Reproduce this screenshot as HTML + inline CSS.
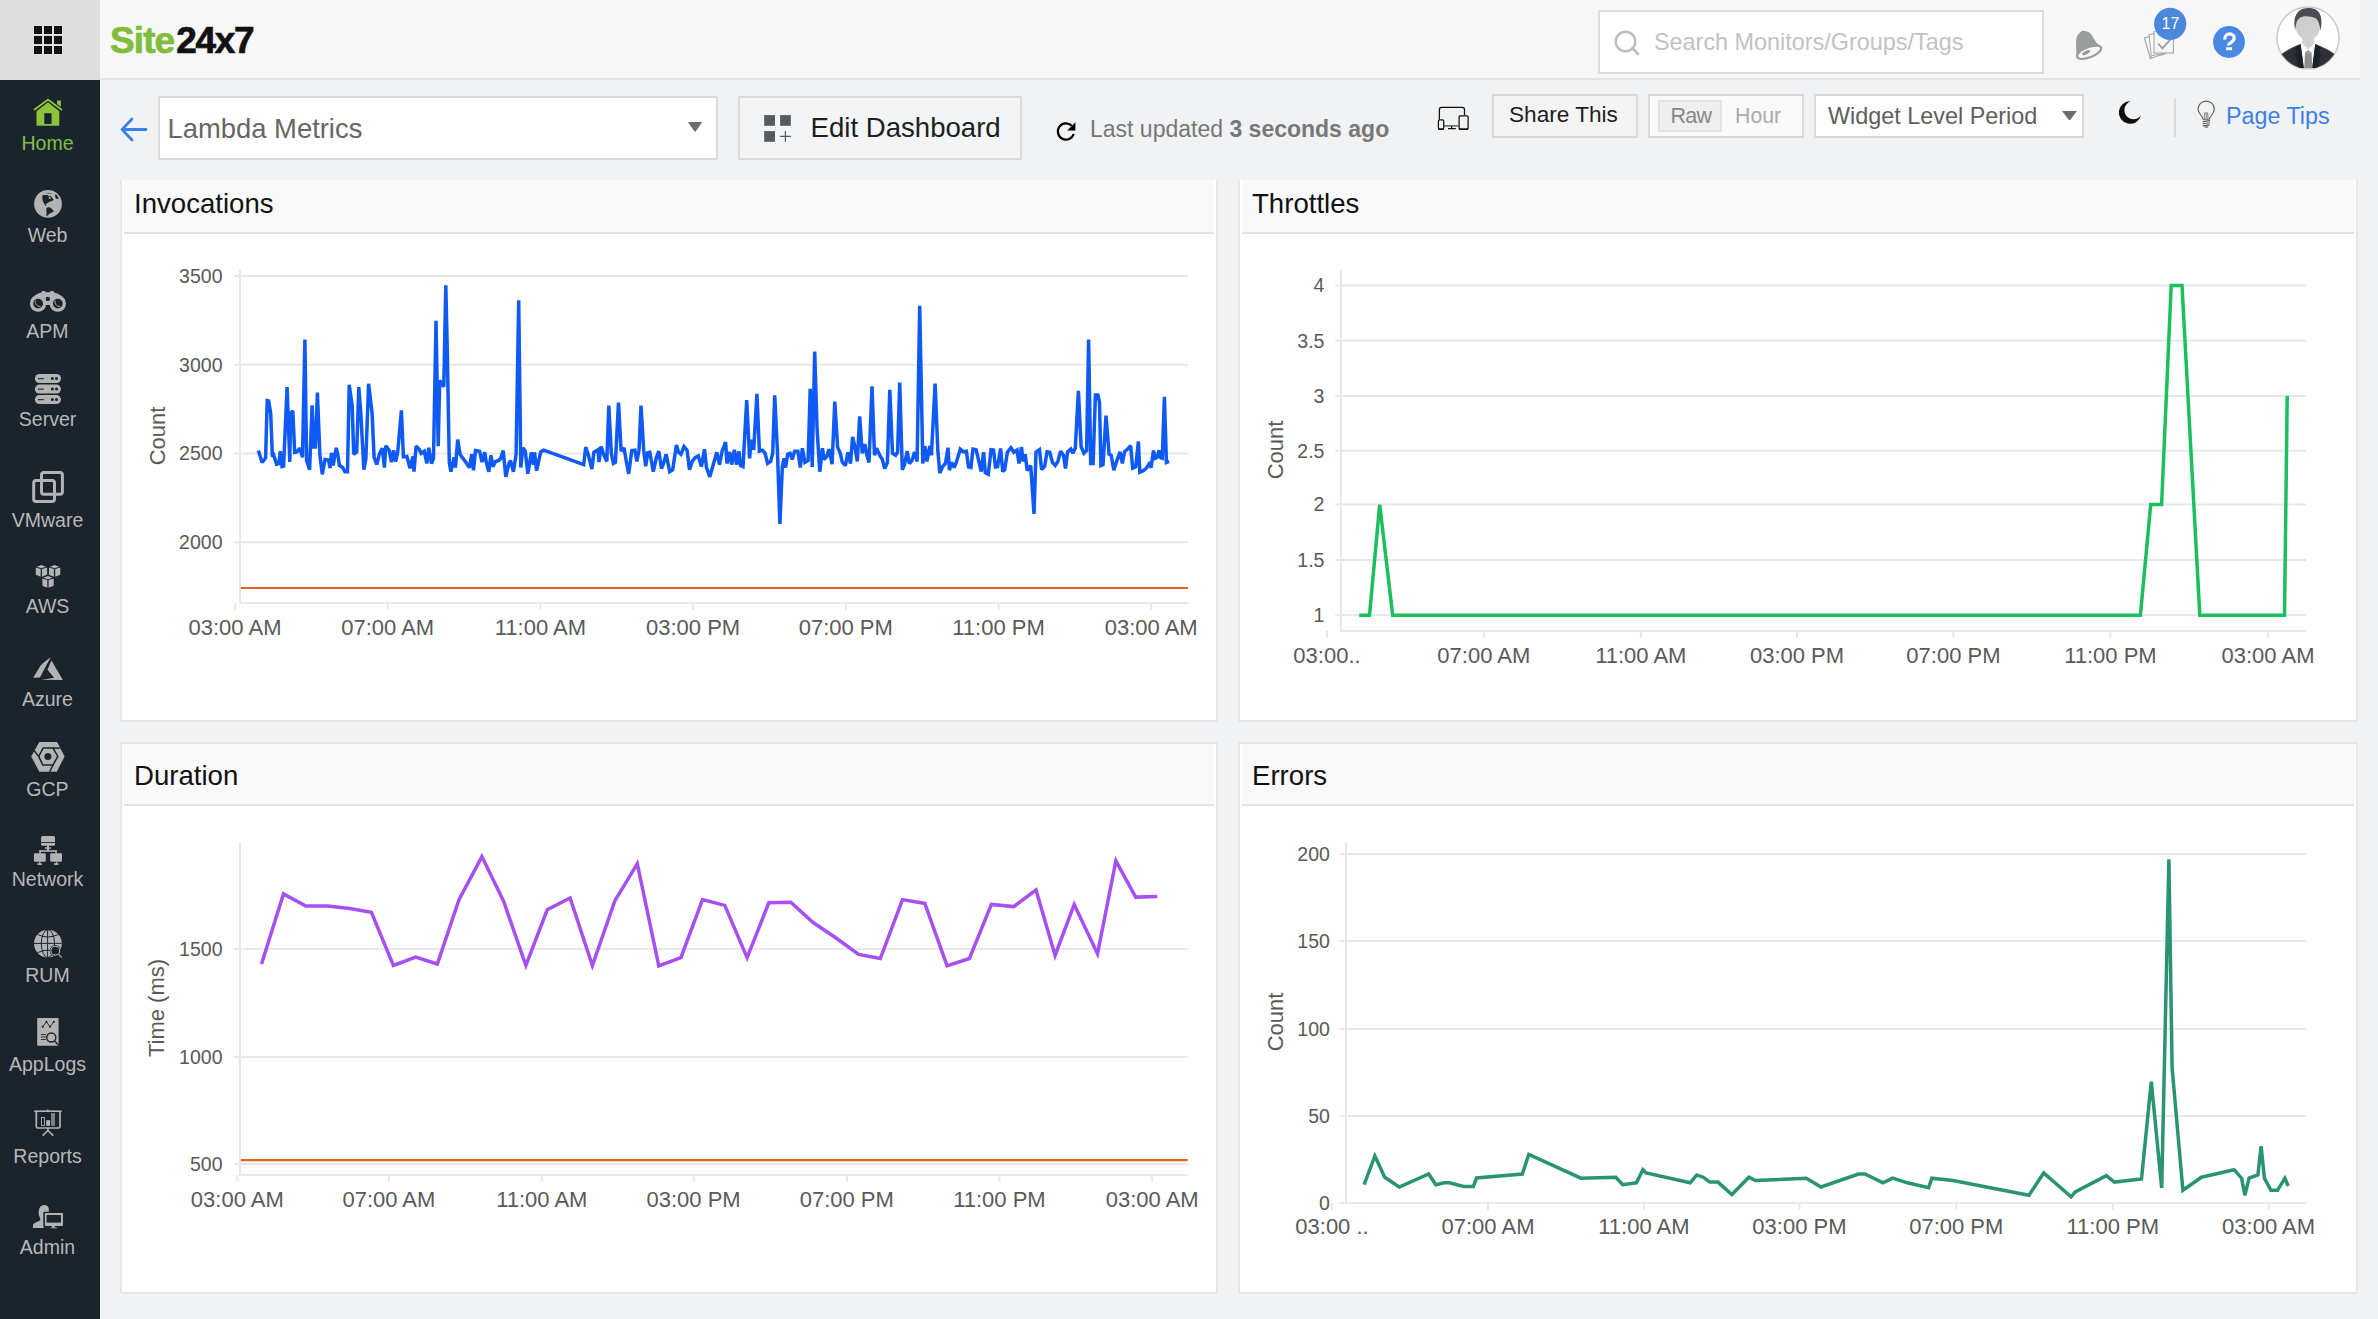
<!DOCTYPE html>
<html><head><meta charset="utf-8"><title>Lambda Metrics - Site24x7</title>
<style>
*{box-sizing:border-box;margin:0;padding:0}
html,body{width:2378px;height:1319px;overflow:hidden;background:#f1f2f4;font-family:"Liberation Sans",Arial,sans-serif}
.abs{position:absolute}
#topbar{position:absolute;left:0;top:0;width:2360px;height:80px;background:#f7f7f7;border-bottom:2px solid #e4e4e4}
#appgrid{position:absolute;left:0;top:0;width:100px;height:80px;background:#dddddd}
#sidebar{position:absolute;left:0;top:80px;width:100px;height:1239px;background:#1b242d}
.logo{position:absolute;left:110px;top:16px;font-weight:bold;font-size:37px;letter-spacing:-1.1px;line-height:50px;white-space:nowrap}
.logo .g{color:#7fbd3b;letter-spacing:-0.9px;-webkit-text-stroke:0.7px #7fbd3b}.logo .k{color:#111;margin-left:2px;letter-spacing:-1.35px;-webkit-text-stroke:0.7px #111}
.nav{position:absolute;left:0;width:95px;text-align:center;font-size:19.5px;color:#b8b8b8;line-height:20px}
.nav.on{color:#7fc242}
.navi{position:absolute}
.card{position:absolute;background:#fff;border:2px solid #e7e7e7;border-top:none}
.card .hd{position:absolute;left:2px;right:2px;top:0;height:54px;background:#f9f9f9;border-bottom:2px solid #e1e1e1}
.card .hd span{position:absolute;left:10px;top:8.5px;font-size:27.6px;color:#111;line-height:30px}
.box{position:absolute;border:2px solid #d9d9d9}
svg text{font-family:"Liberation Sans",Arial,sans-serif}
.yl{font-size:19.5px;fill:#595959}
.xl{font-size:22px;fill:#595959}
.at{font-size:22px;fill:#595959}
</style></head>
<body>
<div id="topbar"></div>
<div id="appgrid">
 <svg class="abs" style="left:34px;top:26px" width="28" height="28" viewBox="0 0 28 28" fill="#111">
  <rect x="0" y="0" width="8" height="8"/><rect x="10" y="0" width="8" height="8"/><rect x="20" y="0" width="8" height="8"/>
  <rect x="0" y="10" width="8" height="8"/><rect x="10" y="10" width="8" height="8"/><rect x="20" y="10" width="8" height="8"/>
  <rect x="0" y="20" width="8" height="8"/><rect x="10" y="20" width="8" height="8"/><rect x="20" y="20" width="8" height="8"/>
 </svg>
</div>
<div class="logo"><span class="g">Site</span><span class="k">24x7</span></div>

<!-- search -->
<div class="box" style="left:1598px;top:10px;width:446px;height:64px;background:#fff;border-color:#dcdcdc"></div>
<svg class="abs" style="left:1613.5px;top:29.5px" width="28" height="28" viewBox="0 0 28 28"><circle cx="11.5" cy="11.5" r="9.8" fill="none" stroke="#bebebe" stroke-width="2.4"/><line x1="18.6" y1="18.6" x2="24" y2="24" stroke="#bebebe" stroke-width="2.8" stroke-linecap="round"/></svg>
<div class="abs" style="left:1654px;top:28.2px;font-size:23.4px;color:#c2c2c2;line-height:28px;white-space:nowrap">Search Monitors/Groups/Tags</div>
<!-- bell -->
<svg class="abs" style="left:2066px;top:6px" width="40" height="60" viewBox="0 0 40 60"><path d="M10.6 49 C 10.2 42, 9.6 35, 10.8 31 C 11.6 28.6, 13.6 27, 15 25.8 C 15.4 24.8, 16.2 24.4, 17 24.8 C 19.5 25.2, 22.3 25.4, 24.2 27.2 C 26.4 29.4, 27.6 32.5, 29.2 35 C 30.8 37.4, 33 38.8, 35 40.6 Z" fill="#9b9d9d"/><ellipse cx="23" cy="46.3" rx="12.9" ry="5.1" transform="rotate(-21 23 46.3)" fill="#f7f7f7" stroke="#9b9d9d" stroke-width="2.1"/><ellipse cx="20.2" cy="46.6" rx="4.4" ry="1.7" transform="rotate(-25 20.2 46.6)" fill="#9b9d9d"/></svg>
<!-- tasks -->
<svg class="abs" style="left:2066px;top:6px" width="130" height="64" viewBox="0 0 130 64"><g fill="#f7f7f7" stroke="#aaaaaa" stroke-width="1.1"><path d="M78.5 32 L 83 31 L 84.5 52.5 Z"/><path d="M78.5 32 L 83.2 30.8 L 88 50.5 L 84.5 52.5 Z"/><path d="M83 28.5 L 87.5 27.8 L 98 48.5 L 85.3 50 Z"/><path d="M84.5 52.5 L 85.3 49.8 L 101 47 Z"/><rect x="88" y="25.7" width="19.4" height="21.3"/></g><path d="M92.1 37.5 L 96.5 42.4 L 105.5 32.3" fill="none" stroke="#999" stroke-width="1.7"/><circle cx="104.2" cy="17.8" r="16.1" fill="#4a88e0"/><text x="104.4" y="23.2" text-anchor="middle" font-size="16" fill="#fff" font-family="Liberation Sans, Arial, sans-serif">17</text></svg>
<!-- help -->
<svg class="abs" style="left:2213px;top:26px" width="32" height="32" viewBox="0 0 32 32"><circle cx="16" cy="16" r="15.9" fill="#4a89e3"/><path d="M11.7 13.4 C 11.7 9.4, 14.2 7.9, 16.6 7.9 C 19.4 7.9, 21.2 9.7, 21.2 12.1 C 21.2 14.4, 19.6 15.4, 18.1 16.4 C 16.8 17.3, 15.4 17.9, 15.4 19.6" fill="none" stroke="#fff" stroke-width="3.2"/><rect x="13.1" y="21.3" width="6" height="2.9" fill="#fff"/></svg>
<!-- avatar -->
<svg class="abs" style="left:2270px;top:2px" width="76" height="72" viewBox="0 0 76 72">
 <defs><clipPath id="avc"><circle cx="38" cy="36" r="30.8"/></clipPath></defs>
 <circle cx="38" cy="36" r="31" fill="#fff" stroke="#c9c9c9" stroke-width="1.5"/>
 <g clip-path="url(#avc)">
  <path d="M30.6 42 L 45.3 42 L 44 60 L 32 60 Z" fill="#ffffff"/>
  <path d="M32.2 36 L 44.2 36 L 44.2 41.5 L 38.2 47.5 L 32.2 41.5 Z" fill="#d2d2d2"/>
  <path d="M12.6 51.3 C 18 47.5, 24 44.5, 30.6 42 L 33.8 66 L 0 70 Z" fill="#2d3136"/>
  <path d="M63.4 51.3 C 58 47.5, 52 44.5, 45.3 42 L 42.2 66 L 76 70 Z" fill="#2d3136"/>
  <path d="M30.6 42 L 25 46 L 27 50 L 24.5 53 L 27 57 L 28 66 L 33.8 66 Z" fill="#1b222b"/>
  <path d="M45.3 42 L 51 46 L 49 50 L 51.5 53 L 49 57 L 48 66 L 42.2 66 Z" fill="#1b222b"/>
  <path d="M38.2 48 L 41.5 50.5 L 42.3 66 L 34.2 66 L 35 50.5 Z" fill="#8f8f8f"/>
  <path d="M38.2 48 L 41.5 50.5 L 38.2 52 L 35 50.5 Z" fill="#a5a5a5"/>
  <path d="M25.8 24 C 25.6 17, 30 13.6, 38 13.6 C 45.8 13.6, 50.2 17, 50.2 24 C 50.2 31.5, 45.5 37.6, 38 37.6 C 30.5 37.6, 25.8 31.5, 25.8 24 Z" fill="#cecece"/>
  <path d="M25.4 28.5 C 23.4 21, 24 12.5, 30 8.3 C 34 5.5, 42 5.3, 46.5 8 C 51.5 11.5, 52.5 19, 50.6 28.5 C 49.8 23, 48.3 18.3, 46 16.6 C 43 15, 40 14.4, 36 14.3 C 31 14.3, 28 16.5, 26.5 20.5 C 25.8 23, 25.5 25.5, 25.4 28.5 Z" fill="#4a4d51"/>
 </g>
</svg>

<div id="sidebar"></div>
<div class="nav on" style="top:133.4px">Home</div>
<svg class="navi" style="left:25px;top:92px" width="50" height="38" viewBox="0 0 50 38"><path d="M9 18 L23 7.6 L36.9 18" fill="none" stroke="#8bc43c" stroke-width="1.9"/><path d="M32 8.4 H35.9 V14.8 L32 11.9 Z" fill="#8bc43c"/><path d="M11.5 19.2 L23 10.2 L34.3 19.2 V33.8 H11.5 Z" fill="#8bc43c"/><rect x="19.3" y="21.3" width="7.3" height="10.7" rx="0.6" fill="#1b242d"/></svg>
<div class="nav" style="top:225.4px">Web</div>
<svg class="navi" style="left:25px;top:184px" width="45" height="38" viewBox="0 0 45 38"><circle cx="23" cy="19.9" r="13.9" fill="#b3b3b3"/><path d="M17.3 11.3 C 19 10.9, 21.5 10.8, 23.2 11.3 L 23.6 12.6 L 25.8 12 L 27 13.4 L 28.6 15.8 L 27.5 16.8 C 26 17.2, 24.5 17.6, 23.2 18.4 C 22 19, 21.2 19.8, 20.8 20.6 L 21.6 22 L 20.3 21.5 C 19.6 20.2, 18.6 18.6, 17.8 17.2 C 17.4 15.5, 17.2 13.5, 17.3 11.3 Z" fill="#1b242d"/><ellipse cx="24.8" cy="13.9" rx="1.1" ry="0.9" fill="#b3b3b3"/><path d="M21.5 24 C 22.5 22.8, 25 23, 26.3 24.6 C 27.2 25.6, 28.2 26.3, 28.9 27.3 C 27.5 28.5, 25.5 29.2, 24.3 30 C 23 31, 21.8 32, 21 32.4 C 21.5 30.5, 22 28.5, 21.3 26.5 Z" fill="#1b242d"/><path d="M29.8 10.6 L 31.8 11 L 33.8 14.6 L 31 14.9 L 30.3 13 Z" fill="#1b242d"/><path d="M20.5 9 C 22.5 8.5, 25 8.6, 27.5 9.6 L 25 10.2 L 22 9.8 Z" fill="#1b242d" opacity="0.45"/></svg>
<div class="nav" style="top:320.9px">APM</div>
<svg class="navi" style="left:25px;top:282px" width="45" height="36" viewBox="0 0 45 36"><g fill="#b3b3b3"><circle cx="13.1" cy="21.6" r="8.2"/><circle cx="32.8" cy="21.6" r="8.2"/><path d="M5.6 18 C 8.5 13.5, 12.5 11.6, 16 10.8 C 16.8 8.8, 19.8 8.3, 21 10.3 L 24.6 10.3 C 25.8 8.3, 28.8 8.8, 29.6 10.8 C 33.1 11.6, 37.1 13.5, 40.2 18 L 34 22 L 12 22 Z"/><rect x="19.5" y="13" width="7" height="10"/></g><circle cx="13.1" cy="21.6" r="4.9" fill="#1b242d"/><circle cx="32.8" cy="21.6" r="4.9" fill="#1b242d"/><circle cx="22.8" cy="16.9" r="2.2" fill="#1b242d"/><path d="M10.6 18.6 C 9.8 21.5, 11.5 24.5, 15.5 24.5" fill="none" stroke="#b3b3b3" stroke-width="1"/><path d="M30.3 18.6 C 29.5 21.5, 31.2 24.5, 35.2 24.5" fill="none" stroke="#b3b3b3" stroke-width="1"/></svg>
<div class="nav" style="top:409.4px">Server</div>
<svg class="navi" style="left:25px;top:368px" width="45" height="42" viewBox="0 0 45 42"><g fill="#b3b3b3"><rect x="9.9" y="6" width="26.1" height="9" rx="4.5"/><rect x="9.9" y="16.6" width="26.1" height="9" rx="4.5"/><rect x="9.9" y="27.1" width="26.1" height="9" rx="4.5"/></g><g fill="#1b242d"><circle cx="27.4" cy="10.6" r="1.5"/><circle cx="31.5" cy="10.6" r="1.5"/><circle cx="27.4" cy="21.1" r="1.5"/><circle cx="31.5" cy="21.1" r="1.5"/><circle cx="27.4" cy="31.6" r="1.5"/><circle cx="31.5" cy="31.6" r="1.5"/><rect x="12.9" y="10.1" width="5.9" height="1.1"/><rect x="12.9" y="20.6" width="5.9" height="1.1"/><rect x="12.9" y="31.1" width="5.9" height="1.1"/></g></svg>
<div class="nav" style="top:510.4px">VMware</div>
<svg class="navi" style="left:25px;top:465px" width="45" height="45" viewBox="0 0 45 45"><g fill="none" stroke="#b3b3b3" stroke-width="3"><rect x="16.5" y="7.6" width="20.9" height="21.6" rx="2.4"/><rect x="8.7" y="15.5" width="20.8" height="20.9" rx="2.4"/></g></svg>
<div class="nav" style="top:596.4px">AWS</div>
<svg class="navi" style="left:28px;top:558px" width="40" height="36" viewBox="0 0 40 36"><path d="M8.7 8.7 L13.4 7 L18.0 8.7 L13.4 10.3 Z" fill="#b3b3b3"/><path d="M7.8 9.4 L12.7 11.0 L12.7 18.8 L7.8 16.8 Z" fill="#b3b3b3"/><path d="M14.0 11.0 L19.1 9.4 L19.1 16.8 L14.0 18.8 Z" fill="#b3b3b3"/><path d="M21.9 8.7 L26.6 7 L31.2 8.7 L26.6 10.3 Z" fill="#b3b3b3"/><path d="M21.0 9.4 L25.9 11.0 L25.9 18.8 L21.0 16.8 Z" fill="#b3b3b3"/><path d="M27.2 11.0 L32.3 9.4 L32.3 16.8 L27.2 18.8 Z" fill="#b3b3b3"/><path d="M15.3 19.7 L20 18 L24.6 19.7 L20 21.3 Z" fill="#b3b3b3"/><path d="M14.4 20.4 L19.3 22.0 L19.3 29.8 L14.4 27.8 Z" fill="#b3b3b3"/><path d="M20.6 22.0 L25.7 20.4 L25.7 27.8 L20.6 29.8 Z" fill="#b3b3b3"/></svg>
<div class="nav" style="top:689.4px">Azure</div>
<svg class="navi" style="left:25px;top:650px" width="45" height="36" viewBox="0 0 45 36"><path d="M8.2 27.8 L 15.6 15.6 C 19 12, 22.5 9.3, 25.7 7.2 L 14.9 27.6 Z" fill="#b3b3b3"/><path d="M26.5 10.6 L 37.8 29.9 L 16.4 29.7 L 29.2 27.8 L 22.4 19.7 Z" fill="#b3b3b3"/></svg>
<div class="nav" style="top:778.9px">GCP</div>
<svg class="navi" style="left:25px;top:736px" width="45" height="42" viewBox="0 0 45 42"><path d="M6.2 20.4 L 14.3 6.1 H 32.2 L 39.6 20.4 L 31.8 35.7 H 14.3 Z" fill="#b3b3b3"/><path d="M13.7 20.4 L 18.2 12.1 H 28 L 32.8 20.4 L 28 29 H 17.8 Z" fill="#b3b3b3" stroke="#1b242d" stroke-width="1.5"/><g stroke="#1b242d" stroke-width="1.5"><path d="M28 12.1 H 35.5"/><path d="M13.7 20.4 L 9.2 14.8"/><path d="M28 29 L 24.6 36"/></g><circle cx="22.9" cy="20.4" r="3.5" fill="#1b242d"/></svg>
<div class="nav" style="top:869.4px">Network</div>
<svg class="navi" style="left:25px;top:830px" width="45" height="40" viewBox="0 0 45 40"><g fill="#b3b3b3"><rect x="16.1" y="6.1" width="13.9" height="9.7" rx="1.5"/><rect x="22" y="15.5" width="2" height="5.5"/><rect x="20" y="17.3" width="5.9" height="1.5"/><rect x="14.3" y="20.2" width="17.5" height="1.6"/><rect x="14.3" y="20.2" width="1.5" height="3.5"/><rect x="30.3" y="20.2" width="1.5" height="3.5"/><rect x="8.9" y="23.3" width="11.9" height="8.4" rx="1.3"/><rect x="25.2" y="23.3" width="11.8" height="8.4" rx="1.3"/><rect x="14.1" y="31.5" width="1.3" height="2"/><rect x="12.4" y="33.2" width="4.4" height="1.7"/><rect x="30.9" y="31.5" width="1.3" height="2"/><rect x="29" y="33.2" width="4.5" height="1.7"/></g><rect x="16.1" y="12" width="13.9" height="0.9" fill="#1b242d"/></svg>
<div class="nav" style="top:965.4px">RUM</div>
<svg class="navi" style="left:25px;top:924px" width="45" height="40" viewBox="0 0 45 40"><circle cx="22.9" cy="19.6" r="13.9" fill="#b3b3b3"/><g fill="none" stroke="#1b242d" stroke-width="1"><ellipse cx="22.9" cy="19.6" rx="6.6" ry="13.9"/><path d="M9 19.4 H 36.8 M 22.6 5.7 V 33.5 M 12.5 10.5 Q 22.9 15.5, 33.3 10.5 M 12.5 28.7 Q 22.9 23.7, 33.3 28.7"/></g><circle cx="30.3" cy="26.7" r="5.6" fill="#1b242d"/><circle cx="30.3" cy="26.7" r="4.4" fill="none" stroke="#b3b3b3" stroke-width="1.1"/><path d="M33.6 30.4 L 36.8 33.6" stroke="#b3b3b3" stroke-width="1.3"/></svg>
<div class="nav" style="top:1054.4px">AppLogs</div>
<svg class="navi" style="left:28px;top:1012px" width="40" height="40" viewBox="0 0 40 40"><rect x="9.2" y="5.9" width="21.4" height="27.9" rx="1" fill="#b3b3b3"/><path d="M14.7 14.7 L 18.4 9.9 L 22 14.7 L 25.8 9.9" fill="none" stroke="#1b242d" stroke-width="0.9"/><g fill="#1b242d"><circle cx="14.7" cy="14.7" r="1.05"/><circle cx="18.4" cy="9.9" r="1.05"/><circle cx="22" cy="14.7" r="1.05"/><circle cx="25.8" cy="9.9" r="1.05"/><rect x="12.9" y="22" width="5" height="0.9"/><rect x="12.9" y="24.5" width="5" height="0.9"/><rect x="12.9" y="27" width="5" height="0.9"/></g><circle cx="23.3" cy="25.5" r="4.5" fill="#b3b3b3" stroke="#1b242d" stroke-width="1.4"/><path d="M26.6 29 L 30.4 33" stroke="#1b242d" stroke-width="1.5"/></svg>
<div class="nav" style="top:1146.4px">Reports</div>
<svg class="navi" style="left:28px;top:1102px" width="40" height="40" viewBox="0 0 40 40"><g fill="none" stroke="#b3b3b3"><path d="M6.2 9.2 H 33.7" stroke-width="1.6"/><path d="M8.3 9.2 V 24.5 Q 8.3 26 10 26 H 30.3 Q 32 26 32 24.5 V 9.2" stroke-width="1.7"/><rect x="13.4" y="15.4" width="3" height="8" stroke-width="0.9"/><path d="M19.9 26.5 V 28.5 M 19.9 28.5 L 14.6 33.6 M 19.9 28.5 L 25.3 33.6" stroke-width="1.7"/></g><rect x="18.2" y="18.2" width="3.8" height="5.6" fill="#b3b3b3"/><rect x="23" y="11.1" width="4" height="12.7" fill="#b3b3b3" opacity="0.65"/><circle cx="19.9" cy="8.6" r="1" fill="#b3b3b3"/></svg>
<div class="nav" style="top:1237.4px">Admin</div>
<svg class="navi" style="left:26px;top:1198px" width="45" height="38" viewBox="0 0 45 38"><path d="M6.9 30 L 7.2 25.9 C 9.5 24.3, 12 23.5, 14.3 22.2 C 14.5 21, 13.8 19.5, 13.2 18 C 12.6 16.5, 12.3 14.5, 12.8 12.5 C 13.3 9.5, 15.4 7.2, 17.9 7.1 C 20.5 7, 22.5 8.3, 22.8 10.5 L 22.8 14 L 17.5 14 L 17.5 30 Z" fill="#b3b3b3"/><rect x="17.6" y="13.8" width="20.4" height="15.3" rx="1.2" fill="#1b242d"/><rect x="18.9" y="15" width="18.1" height="13" rx="0.8" fill="#b3b3b3"/><rect x="20.6" y="17" width="14.4" height="7.6" fill="#1b242d"/><rect x="25.9" y="28" width="2.9" height="1.6" fill="#b3b3b3"/><rect x="24.8" y="29.4" width="6.2" height="0.9" fill="#b3b3b3"/><rect x="6.9" y="29" width="11" height="1" fill="#b3b3b3"/></svg>

<!-- toolbar -->
<svg class="abs" style="left:120px;top:117px" width="28" height="26" viewBox="0 0 28 26"><path d="M12 2 L 2 12.5 L 12 23 M 2.5 12.5 L 26 12.5" fill="none" stroke="#3d80e4" stroke-width="2.8" stroke-linecap="round" stroke-linejoin="round"/></svg>
<div class="box" style="left:158px;top:96px;width:560px;height:64px;background:#fff"></div>
<div class="abs" style="left:167.5px;top:114px;font-size:27.4px;color:#666;line-height:30px;white-space:nowrap">Lambda Metrics</div>
<svg class="abs" style="left:688px;top:122px" width="15" height="10" viewBox="0 0 15 10"><path d="M0 0 H14.2 L8.1 8.9 Q7.1 10.1, 6.1 8.9 Z" fill="#6a6c6d"/></svg>
<div class="box" style="left:738px;top:96px;width:284px;height:64px;background:#f3f4f5"></div>
<svg class="abs" style="left:755px;top:105px" width="45" height="45" viewBox="0 0 45 45" fill="#58595b"><rect x="9.2" y="10.1" width="10.8" height="10.7"/><rect x="25.1" y="10.1" width="10.7" height="10.7"/><rect x="9.2" y="26.1" width="10.8" height="10.7"/><path d="M30.4 26.1 V 36.8 M 25.1 31.4 H 35.8" stroke="#58595b" stroke-width="1.2"/></svg>
<div class="abs" style="left:810.5px;top:112.5px;font-size:27.6px;color:#1e1e1e;line-height:30px;white-space:nowrap">Edit Dashboard</div>

<svg class="abs" style="left:1050px;top:115px" width="32" height="32" viewBox="0 0 32 32"><path d="M21.73 10.77 A 8.1 8.1 0 1 0 23.7 19.0" fill="none" stroke="#000" stroke-width="2.2"/><path d="M25.4 7.3 L 25.3 15.6 L 17.3 15.6 Z" fill="#000"/></svg>
<div class="abs" style="left:1090px;top:114.5px;font-size:23px;color:#777;line-height:28px;white-space:nowrap">Last updated <b>3 seconds ago</b></div>

<svg class="abs" style="left:1430px;top:100px" width="46" height="36" viewBox="0 0 46 36"><g fill="none" stroke="#111" stroke-width="1.25"><path d="M9.4 19.4 V 9.6 Q 9.4 7.4 11.6 7.4 H 32.3 Q 34.5 7.4 34.5 9.6 V 15.3"/><rect x="8.4" y="19.9" width="5.3" height="9.2" rx="1"/><rect x="29.1" y="15.9" width="9" height="13.2" rx="1"/><path d="M14 25.9 H 28.8" stroke="#444"/><path d="M21.6 26 V 28.5 M 18 28.6 H 25.8"/><path d="M8.4 29.2 H 13.7 M 29.1 29.2 H 38.1" stroke-width="1.6"/></g></svg>
<div class="box" style="left:1492px;top:94px;width:146px;height:44px;background:#f4f4f5"></div>
<div class="abs" style="left:1509px;top:101px;font-size:22.6px;color:#1e1e1e;line-height:28px;white-space:nowrap">Share This</div>
<div class="box" style="left:1648px;top:94px;width:156px;height:44px;background:#f9f9f9"></div>
<div class="box" style="left:1658px;top:100px;width:64px;height:32px;background:#efefef;border-color:#e3e3e3"></div>
<div class="abs" style="left:1670.5px;top:101.5px;font-size:21.5px;letter-spacing:-0.7px;color:#888;line-height:28px">Raw</div>
<div class="abs" style="left:1735px;top:101.5px;font-size:21.3px;color:#aaa;line-height:28px">Hour</div>
<div class="box" style="left:1814px;top:94px;width:270px;height:44px;background:#fff"></div>
<div class="abs" style="left:1828px;top:102px;font-size:23.4px;color:#5e5e5e;line-height:28px;white-space:nowrap">Widget Level Period</div>
<svg class="abs" style="left:2061.5px;top:110.5px" width="16" height="10" viewBox="0 0 16 10"><path d="M0 0 H15 L8.5 8.6 Q7.5 9.8, 6.5 8.6 Z" fill="#6a6c6d"/></svg>
<svg class="abs" style="left:2116px;top:100px" width="27" height="26" viewBox="0 0 27 26"><path d="M15 1.3 A 11.28 11.28 0 1 0 25 15.5 A 9.18 9.18 0 1 1 15 1.3 Z" fill="#0d0d0d"/></svg>
<div class="abs" style="left:2174px;top:98px;width:2px;height:39px;background:#dcdcdc"></div>
<svg class="abs" style="left:2196px;top:100px" width="20" height="29" viewBox="0 0 20 29"><g fill="none" stroke="#5a5a5a" stroke-width="1.1"><path d="M7.2 19.2 C 7 16.5, 2.1 14, 2.1 9.2 A 8.1 8.1 0 0 1 18.3 9.2 C 18.3 14, 13.4 16.5, 13.2 19.2 Z"/><path d="M8.6 18.8 V 12.9 H 11.8 V 18.8 M 10.2 13 V 18.5" stroke-width="0.7"/><path d="M6.6 21.6 L 14 20.6 M 6.6 23.8 L 14 22.8 M 6.8 25.9 L 13.6 24.9 M 8.6 27.3 L 12.2 26.9"/></g></svg>
<div class="abs" style="left:2226px;top:101.6px;font-size:23.3px;color:#3d80e4;line-height:28px;white-space:nowrap">Page Tips</div>

<!-- cards -->
<div class="card" style="left:120px;top:180px;width:1098px;height:542px"><div class="hd"><span>Invocations</span></div></div>
<div class="card" style="left:1238px;top:180px;width:1120px;height:542px"><div class="hd"><span>Throttles</span></div></div>
<div class="card" style="left:120px;top:742px;width:1098px;height:552px;border-top:2px solid #e7e7e7"><div class="hd" style="height:62px"><span style="top:16.5px">Duration</span></div></div>
<div class="card" style="left:1238px;top:742px;width:1120px;height:552px;border-top:2px solid #e7e7e7"><div class="hd" style="height:62px"><span style="top:16.5px">Errors</span></div></div>

<svg class="abs" style="left:0;top:0;pointer-events:none" width="2378" height="1319" viewBox="0 0 2378 1319">
<line x1="234" y1="276.1" x2="1188" y2="276.1" stroke="#e8e8e8" stroke-width="2"/>
<text x="222.5" y="282.9" text-anchor="end" class="yl">3500</text>
<line x1="234" y1="364.8" x2="1188" y2="364.8" stroke="#e8e8e8" stroke-width="2"/>
<text x="222.5" y="371.6" text-anchor="end" class="yl">3000</text>
<line x1="234" y1="453.5" x2="1188" y2="453.5" stroke="#e8e8e8" stroke-width="2"/>
<text x="222.5" y="460.3" text-anchor="end" class="yl">2500</text>
<line x1="234" y1="542.2" x2="1188" y2="542.2" stroke="#e8e8e8" stroke-width="2"/>
<text x="222.5" y="549.0" text-anchor="end" class="yl">2000</text>
<line x1="240" y1="270" x2="240" y2="603" stroke="#e8e8e8" stroke-width="2"/>
<line x1="239" y1="603" x2="1188" y2="603" stroke="#e8e8e8" stroke-width="2"/>
<line x1="235.0" y1="603" x2="235.0" y2="610" stroke="#e8e8e8" stroke-width="2"/>
<text x="235.0" y="635" text-anchor="middle" class="xl">03:00 AM</text>
<line x1="387.7" y1="603" x2="387.7" y2="610" stroke="#e8e8e8" stroke-width="2"/>
<text x="387.7" y="635" text-anchor="middle" class="xl">07:00 AM</text>
<line x1="540.4" y1="603" x2="540.4" y2="610" stroke="#e8e8e8" stroke-width="2"/>
<text x="540.4" y="635" text-anchor="middle" class="xl">11:00 AM</text>
<line x1="693.0999999999999" y1="603" x2="693.0999999999999" y2="610" stroke="#e8e8e8" stroke-width="2"/>
<text x="693.0999999999999" y="635" text-anchor="middle" class="xl">03:00 PM</text>
<line x1="845.8" y1="603" x2="845.8" y2="610" stroke="#e8e8e8" stroke-width="2"/>
<text x="845.8" y="635" text-anchor="middle" class="xl">07:00 PM</text>
<line x1="998.5" y1="603" x2="998.5" y2="610" stroke="#e8e8e8" stroke-width="2"/>
<text x="998.5" y="635" text-anchor="middle" class="xl">11:00 PM</text>
<line x1="1151.1999999999998" y1="603" x2="1151.1999999999998" y2="610" stroke="#e8e8e8" stroke-width="2"/>
<text x="1151.1999999999998" y="635" text-anchor="middle" class="xl">03:00 AM</text>
<text transform="translate(165,436) rotate(-90)" text-anchor="middle" class="at">Count</text>
<polyline points="240.8,588 1188,588" fill="none" stroke="#e0661b" stroke-width="2.2"/>
<polyline points="258.4,450.6 262.1,462.5 265.6,458.0 267.2,400.7 268.7,401.0 270.7,413.4 272.4,456.8 273.8,455.3 276.5,464.1 278.9,463.5 280.3,451.2 282.0,466.6 283.6,466.2 287.1,387.1 289.8,461.9 290.6,413.4 292.8,410.9 294.7,452.3 296.9,451.9 300.0,448.2 302.5,457.4 304.9,339.6 306.6,460.5 309.6,469.7 312.1,405.2 313.7,447.1 315.4,447.1 317.4,392.5 319.9,455.3 322.3,474.4 325.0,459.4 328.5,460.0 330.1,468.2 331.5,452.9 333.2,465.6 334.6,456.4 336.3,447.8 337.9,455.3 339.5,465.6 342.8,467.6 344.9,471.7 347.5,471.7 349.2,384.7 352.2,406.2 353.7,454.3 356.7,451.9 358.8,387.1 360.8,413.4 363.9,469.7 365.9,458.4 368.6,383.7 372.1,413.4 374.1,457.4 376.8,464.6 379.3,454.3 382.3,448.2 384.4,467.6 385.8,445.7 389.1,450.2 391.5,462.1 393.6,450.2 395.6,461.5 397.7,452.3 401.4,410.3 403.4,456.8 406.9,456.4 410.0,468.2 413.0,456.4 414.0,471.7 416.1,446.1 419.2,449.2 421.2,453.3 424.3,451.2 426.8,463.5 428.8,447.8 431.5,463.5 433.5,458.4 436.0,320.8 438.2,446.1 439.7,380.6 443.8,386.7 445.8,285.4 447.3,351.9 449.3,462.5 450.9,471.7 454.0,457.4 455.4,467.6 457.7,439.6 460.1,454.3 462.2,457.4 465.3,461.5 469.4,467.6 471.8,454.3 473.5,470.3 475.5,450.6 479.6,451.2 482.0,462.1 484.7,452.3 486.3,462.5 488.8,471.7 490.9,455.3 492.9,466.6 495.6,461.5 498.7,460.5 500.7,458.4 503.2,450.6 505.8,476.8 508.9,463.5 510.5,460.5 513.4,471.7 516.1,454.3 518.7,300.3 520.8,467.6 522.8,447.8 525.3,451.2 527.8,473.8 531.4,452.3 533.5,464.6 534.5,452.3 536.6,470.7 540.7,451.9 543.7,450.2 583.7,464.6 585.7,447.1 588.4,455.3 591.9,469.1 593.9,452.3 598.0,449.8 599.0,462.1 601.1,446.5 604.1,455.3 606.8,461.5 608.8,405.6 611.3,453.3 613.4,463.5 615.4,462.5 618.5,402.7 621.1,451.2 624.0,447.8 626.7,463.5 628.7,473.8 631.8,450.6 634.9,450.2 636.9,461.5 639.0,450.2 641.0,405.6 643.7,450.2 645.7,466.2 647.8,452.7 649.8,452.3 653.3,471.7 656.4,457.4 658.8,451.2 661.5,468.6 663.5,463.5 666.2,454.3 669.7,471.7 672.7,469.7 676.4,445.1 678.5,452.3 680.9,454.3 684.0,446.5 687.1,450.2 689.5,469.7 692.2,461.5 695.3,457.4 698.3,456.0 701.4,466.6 704.5,449.2 706.5,467.6 709.8,476.8 713.3,464.6 716.8,452.3 719.5,464.6 722.1,451.2 725.6,442.0 727.0,463.5 729.7,451.9 731.7,464.6 734.4,449.8 736.5,464.6 738.9,451.2 740.5,465.6 743.0,466.6 746.7,400.0 749.6,458.4 751.2,439.6 753.7,449.8 756.9,393.9 759.4,451.2 762.5,450.2 765.1,453.3 767.6,463.5 770.7,461.5 772.7,453.3 774.7,395.3 777.4,450.2 779.9,524.0 782.3,466.6 784.0,458.4 785.6,467.6 787.7,454.3 790.1,453.3 792.2,459.4 794.6,451.2 797.9,451.2 800.3,467.6 802.4,448.2 804.9,462.5 808.1,460.5 810.2,388.8 812.2,467.0 814.7,351.5 817.1,429.7 819.8,471.7 822.5,448.2 823.9,459.4 826.6,456.8 829.0,449.2 832.1,464.1 834.8,401.5 837.6,447.1 840.3,453.3 842.3,462.1 845.4,465.6 847.9,452.3 850.5,463.5 852.6,436.9 855.2,448.2 857.3,461.5 859.7,416.4 862.2,453.3 864.9,444.1 866.9,455.3 869.0,462.5 872.0,386.3 874.5,455.3 876.5,448.2 879.8,455.3 882.3,459.4 884.7,468.6 887.4,462.5 889.8,389.8 892.5,453.3 895.6,455.3 897.6,452.3 899.7,382.6 902.3,469.7 904.5,464.6 907.2,451.2 909.3,463.5 912.0,460.5 914.6,451.9 917.1,461.5 919.7,305.8 922.8,463.5 924.9,446.1 926.9,461.5 929.8,446.1 931.4,455.3 935.1,383.6 937.8,450.1 939.8,473.1 942.7,466.5 945.4,463.5 948.0,447.7 949.4,470.2 951.5,462.4 954.2,467.5 956.6,461.4 960.3,449.1 963.2,451.8 966.4,451.2 968.5,466.9 970.9,467.5 973.0,449.1 976.1,449.7 979.1,462.4 981.2,471.6 983.6,452.2 985.3,472.7 988.3,474.3 991.0,449.7 993.5,450.1 995.5,466.9 997.6,466.5 1000.6,448.5 1002.7,471.6 1004.7,469.6 1007.4,452.2 1010.9,447.7 1013.9,452.2 1017.0,450.1 1019.0,463.5 1021.5,447.1 1023.1,461.4 1025.2,454.2 1027.2,470.6 1030.7,465.5 1034.0,514.0 1036.0,452.2 1039.5,449.7 1041.6,469.6 1044.6,466.5 1047.1,451.8 1049.8,452.2 1052.4,462.4 1055.3,465.5 1057.9,461.4 1060.6,451.2 1063.5,455.3 1065.5,468.6 1067.6,451.8 1070.8,449.1 1072.9,453.2 1075.3,448.1 1078.4,390.8 1081.1,446.5 1083.9,453.2 1086.6,450.5 1088.6,339.6 1090.7,463.5 1093.1,463.5 1095.4,394.9 1097.9,394.9 1099.5,402.6 1100.9,465.5 1103.0,464.5 1106.0,415.7 1109.1,454.2 1111.2,455.3 1113.8,470.2 1116.3,462.4 1120.0,451.8 1122.4,463.5 1124.5,451.8 1128.2,448.5 1130.6,445.6 1132.7,468.2 1135.7,466.9 1138.4,441.5 1139.8,472.2 1142.9,471.0 1146.0,468.6 1149.0,464.1 1151.1,467.5 1153.5,450.5 1155.2,458.3 1157.2,457.3 1158.9,450.5 1160.9,457.9 1162.3,458.3 1164.4,396.9 1166.4,462.4 1169.1,461.4" fill="none" stroke="#0f5af5" stroke-width="3.5" stroke-linejoin="miter" stroke-miterlimit="2"/>
<line x1="1335.3" y1="285.5" x2="2306" y2="285.5" stroke="#e8e8e8" stroke-width="2"/>
<text x="1324.4" y="292.3" text-anchor="end" class="yl">4</text>
<line x1="1335.3" y1="340.8" x2="2306" y2="340.8" stroke="#e8e8e8" stroke-width="2"/>
<text x="1324.4" y="347.6" text-anchor="end" class="yl">3.5</text>
<line x1="1335.3" y1="396" x2="2306" y2="396" stroke="#e8e8e8" stroke-width="2"/>
<text x="1324.4" y="402.8" text-anchor="end" class="yl">3</text>
<line x1="1335.3" y1="450.7" x2="2306" y2="450.7" stroke="#e8e8e8" stroke-width="2"/>
<text x="1324.4" y="457.5" text-anchor="end" class="yl">2.5</text>
<line x1="1335.3" y1="504.6" x2="2306" y2="504.6" stroke="#e8e8e8" stroke-width="2"/>
<text x="1324.4" y="511.4" text-anchor="end" class="yl">2</text>
<line x1="1335.3" y1="559.9" x2="2306" y2="559.9" stroke="#e8e8e8" stroke-width="2"/>
<text x="1324.4" y="566.7" text-anchor="end" class="yl">1.5</text>
<line x1="1335.3" y1="615" x2="2306" y2="615" stroke="#e8e8e8" stroke-width="2"/>
<text x="1324.4" y="621.8" text-anchor="end" class="yl">1</text>
<line x1="1341" y1="270.5" x2="1341" y2="631" stroke="#e8e8e8" stroke-width="2"/>
<line x1="1340" y1="631" x2="2306" y2="631" stroke="#e8e8e8" stroke-width="2"/>
<line x1="1327" y1="631" x2="1327" y2="638" stroke="#e8e8e8" stroke-width="2"/>
<text x="1327" y="663" text-anchor="middle" class="xl">03:00..</text>
<line x1="1483.8" y1="631" x2="1483.8" y2="638" stroke="#e8e8e8" stroke-width="2"/>
<text x="1483.8" y="663" text-anchor="middle" class="xl">07:00 AM</text>
<line x1="1640.8" y1="631" x2="1640.8" y2="638" stroke="#e8e8e8" stroke-width="2"/>
<text x="1640.8" y="663" text-anchor="middle" class="xl">11:00 AM</text>
<line x1="1797" y1="631" x2="1797" y2="638" stroke="#e8e8e8" stroke-width="2"/>
<text x="1797" y="663" text-anchor="middle" class="xl">03:00 PM</text>
<line x1="1953.4" y1="631" x2="1953.4" y2="638" stroke="#e8e8e8" stroke-width="2"/>
<text x="1953.4" y="663" text-anchor="middle" class="xl">07:00 PM</text>
<line x1="2110.4" y1="631" x2="2110.4" y2="638" stroke="#e8e8e8" stroke-width="2"/>
<text x="2110.4" y="663" text-anchor="middle" class="xl">11:00 PM</text>
<line x1="2268" y1="631" x2="2268" y2="638" stroke="#e8e8e8" stroke-width="2"/>
<text x="2268" y="663" text-anchor="middle" class="xl">03:00 AM</text>
<text transform="translate(1283.4,450) rotate(-90)" text-anchor="middle" class="at">Count</text>
<polyline points="1359.2,615.2 1369.5,615.2 1379.7,504.6 1392.7,615.2 2140.4,615.2 2150.7,504.6 2161.6,504.6 2171.2,285.5 2182.0,285.5 2199.8,615.2 2284.5,615.2 2287.2,396.0" fill="none" stroke="#1bbf5c" stroke-width="3.5"/>
<line x1="233.5" y1="949" x2="1187.6" y2="949" stroke="#e8e8e8" stroke-width="2"/>
<text x="222.5" y="955.8" text-anchor="end" class="yl">1500</text>
<line x1="233.5" y1="1057" x2="1187.6" y2="1057" stroke="#e8e8e8" stroke-width="2"/>
<text x="222.5" y="1063.8" text-anchor="end" class="yl">1000</text>
<line x1="233.5" y1="1164" x2="1187.6" y2="1164" stroke="#e8e8e8" stroke-width="2"/>
<text x="222.5" y="1170.8" text-anchor="end" class="yl">500</text>
<line x1="240" y1="842.3" x2="240" y2="1175" stroke="#e8e8e8" stroke-width="2"/>
<line x1="239" y1="1175" x2="1187.6" y2="1175" stroke="#e8e8e8" stroke-width="2"/>
<line x1="237.3" y1="1175" x2="237.3" y2="1182" stroke="#e8e8e8" stroke-width="2"/>
<text x="237.3" y="1207" text-anchor="middle" class="xl">03:00 AM</text>
<line x1="388.9" y1="1175" x2="388.9" y2="1182" stroke="#e8e8e8" stroke-width="2"/>
<text x="388.9" y="1207" text-anchor="middle" class="xl">07:00 AM</text>
<line x1="541.8" y1="1175" x2="541.8" y2="1182" stroke="#e8e8e8" stroke-width="2"/>
<text x="541.8" y="1207" text-anchor="middle" class="xl">11:00 AM</text>
<line x1="693.6" y1="1175" x2="693.6" y2="1182" stroke="#e8e8e8" stroke-width="2"/>
<text x="693.6" y="1207" text-anchor="middle" class="xl">03:00 PM</text>
<line x1="846.8" y1="1175" x2="846.8" y2="1182" stroke="#e8e8e8" stroke-width="2"/>
<text x="846.8" y="1207" text-anchor="middle" class="xl">07:00 PM</text>
<line x1="999.4" y1="1175" x2="999.4" y2="1182" stroke="#e8e8e8" stroke-width="2"/>
<text x="999.4" y="1207" text-anchor="middle" class="xl">11:00 PM</text>
<line x1="1152.2" y1="1175" x2="1152.2" y2="1182" stroke="#e8e8e8" stroke-width="2"/>
<text x="1152.2" y="1207" text-anchor="middle" class="xl">03:00 AM</text>
<text transform="translate(163.5,1008) rotate(-90)" text-anchor="middle" class="at">Time (ms)</text>
<polyline points="240.8,1160.1 1187.6,1160.1" fill="none" stroke="#e0661b" stroke-width="2.2"/>
<polyline points="261.5,964.0 283.5,893.9 305.8,906.0 327.5,906.0 349.7,908.5 371.4,912.4 393.4,965.5 415.7,957.0 437.3,964.0 459.0,899.6 481.9,856.6 503.6,901.2 525.9,965.5 547.2,909.8 570.1,898.0 592.4,965.5 614.7,901.2 637.3,863.6 658.8,965.9 680.9,957.6 702.5,899.6 724.8,905.4 747.1,957.6 768.8,902.8 790.8,902.2 813.1,922.5 835.7,937.8 858.6,954.4 880.3,958.5 902.5,899.6 924.8,903.4 947.1,965.9 969.4,958.5 991.4,904.4 1013.7,906.6 1036.0,890.0 1055.1,955.4 1074.2,904.4 1097.5,953.8 1115.9,860.8 1135.7,897.1 1157.3,896.4" fill="none" stroke="#a64ff3" stroke-width="3.5"/>
<line x1="1339.7" y1="854" x2="2305.8" y2="854" stroke="#e8e8e8" stroke-width="2"/>
<text x="1329.9" y="860.8" text-anchor="end" class="yl">200</text>
<line x1="1339.7" y1="940.9" x2="2305.8" y2="940.9" stroke="#e8e8e8" stroke-width="2"/>
<text x="1329.9" y="947.7" text-anchor="end" class="yl">150</text>
<line x1="1339.7" y1="1028.9" x2="2305.8" y2="1028.9" stroke="#e8e8e8" stroke-width="2"/>
<text x="1329.9" y="1035.7" text-anchor="end" class="yl">100</text>
<line x1="1339.7" y1="1116" x2="2305.8" y2="1116" stroke="#e8e8e8" stroke-width="2"/>
<text x="1329.9" y="1122.8" text-anchor="end" class="yl">50</text>
<line x1="1339.7" y1="1203" x2="2305.8" y2="1203" stroke="#e8e8e8" stroke-width="2"/>
<text x="1329.9" y="1209.8" text-anchor="end" class="yl">0</text>
<line x1="1346" y1="842.4" x2="1346" y2="1203" stroke="#e8e8e8" stroke-width="2"/>
<line x1="1345" y1="1203" x2="2305.8" y2="1203" stroke="#e8e8e8" stroke-width="2"/>
<line x1="1332" y1="1203" x2="1332" y2="1210" stroke="#e8e8e8" stroke-width="2"/>
<text x="1332" y="1234.3" text-anchor="middle" class="xl">03:00 ..</text>
<line x1="1488" y1="1203" x2="1488" y2="1210" stroke="#e8e8e8" stroke-width="2"/>
<text x="1488" y="1234.3" text-anchor="middle" class="xl">07:00 AM</text>
<line x1="1643.9" y1="1203" x2="1643.9" y2="1210" stroke="#e8e8e8" stroke-width="2"/>
<text x="1643.9" y="1234.3" text-anchor="middle" class="xl">11:00 AM</text>
<line x1="1799.4" y1="1203" x2="1799.4" y2="1210" stroke="#e8e8e8" stroke-width="2"/>
<text x="1799.4" y="1234.3" text-anchor="middle" class="xl">03:00 PM</text>
<line x1="1956.3" y1="1203" x2="1956.3" y2="1210" stroke="#e8e8e8" stroke-width="2"/>
<text x="1956.3" y="1234.3" text-anchor="middle" class="xl">07:00 PM</text>
<line x1="2112.8" y1="1203" x2="2112.8" y2="1210" stroke="#e8e8e8" stroke-width="2"/>
<text x="2112.8" y="1234.3" text-anchor="middle" class="xl">11:00 PM</text>
<line x1="2268.6" y1="1203" x2="2268.6" y2="1210" stroke="#e8e8e8" stroke-width="2"/>
<text x="2268.6" y="1234.3" text-anchor="middle" class="xl">03:00 AM</text>
<text transform="translate(1283.3,1022) rotate(-90)" text-anchor="middle" class="at">Count</text>
<polyline points="1364.1,1184.7 1374.9,1156.0 1384.7,1177.2 1399.3,1187.0 1428.7,1174.0 1435.8,1184.7 1444.0,1182.8 1449.5,1182.8 1463.6,1186.4 1473.3,1186.4 1476.6,1177.9 1522.3,1174.0 1528.8,1154.4 1580.9,1178.2 1615.8,1177.2 1622.7,1184.7 1636.4,1182.8 1642.9,1169.7 1646.1,1173.0 1690.2,1182.8 1696.7,1175.0 1703.2,1177.2 1709.7,1182.1 1717.9,1182.1 1731.9,1194.5 1748.9,1177.2 1755.4,1180.5 1806.3,1178.2 1821.0,1187.0 1858.5,1174.0 1865.0,1174.0 1882.9,1182.8 1892.7,1178.2 1907.4,1182.8 1928.6,1187.7 1931.8,1178.2 1953.0,1180.5 2029.0,1195.2 2043.7,1173.0 2071.1,1196.8 2075.3,1191.9 2106.3,1175.6 2114.4,1182.1 2141.5,1178.9 2151.3,1081.7 2161.7,1188.0 2168.9,859.3 2172.1,1068.0 2182.9,1190.3 2201.5,1177.2 2234.1,1169.7 2241.6,1178.2 2244.8,1195.2 2249.1,1178.2 2257.9,1175.0 2261.1,1146.3 2264.4,1178.2 2270.9,1190.3 2277.5,1190.3 2284.9,1178.2 2288.2,1186.0" fill="none" stroke="#2a9374" stroke-width="3.5"/>
</svg>
</body></html>
